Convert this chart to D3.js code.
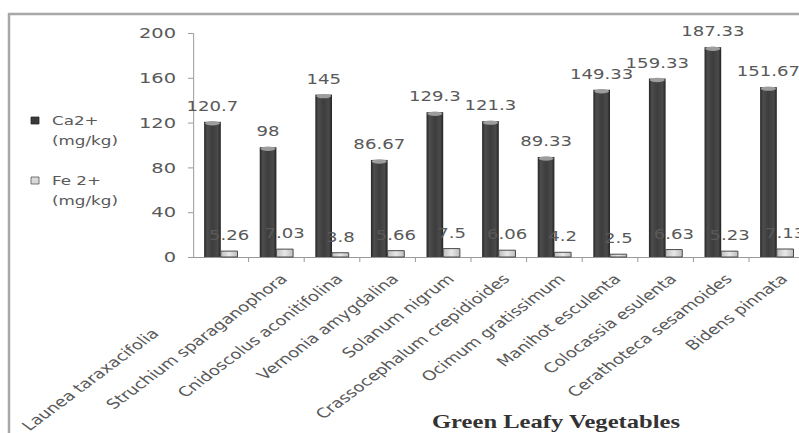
<!DOCTYPE html>
<html>
<head>
<meta charset="utf-8">
<script src="https://cdn.jsdelivr.net/npm/d3@7/dist/d3.min.js"></script>
<style>
  html, body { margin: 0; padding: 0; background: #fff; }
  svg { display: block; }
</style>
</head>
<body>
<div id="chart"></div>
<script>
// Mineral content of green leafy vegetables
const categories = [
  "Launea taraxacifolia", "Struchium sparaganophora", "Cnidoscolus aconitifolina",
  "Vernonia amygdalina", "Solanum nigrum", "Crassocephalum crepidioides",
  "Ocimum gratissimum", "Manihot esculenta", "Colocassia esulenta",
  "Cerathoteca sesamoides", "Bidens pinnata"
];
const calcium = [120.7, 98, 145, 86.67, 129.3, 121.3, 89.33, 149.33, 159.33, 187.33, 151.67];
const iron    = [5.26, 7.03, 3.8, 5.66, 7.5, 6.06, 4.2, 2.5, 6.63, 5.23, 7.13];
const caLabels = ["120.7", "98", "145", "86.67", "129.3", "121.3", "89.33", "149.33", "159.33", "187.33", "151.67"];
const feLabels = ["5.26", "7.03", "3.8", "5.66", "7.5", "6.06", "4.2", "2.5", "6.63", "5.23", "7.13"];
const yTicks = [0, 40, 80, 120, 160, 200];
const seriesNames = [["Ca2+", "(mg/kg)"], ["Fe 2+", "(mg/kg)"]];
const axisTitle = "Green Leafy Vegetables";

const W = 799, H = 433;
const SX = 1.34;                       // horizontal stretch of the whole drawing
const font = "'DejaVu Sans', sans-serif";
const textColor = "#595959";

const svg = d3.select("#chart").append("svg")
  .attr("width", W).attr("height", H);

const defs = svg.append("defs");
const caGrad = defs.append("linearGradient").attr("id", "caFill")
  .attr("x1", "0").attr("x2", "1").attr("y1", "0").attr("y2", "0");
[[0, "#262626"], [0.18, "#4d4d4d"], [0.5, "#3d3d3d"], [0.82, "#4a4a4a"], [1, "#222"]]
  .forEach(([o, c]) => caGrad.append("stop").attr("offset", o).attr("stop-color", c));
const feGrad = defs.append("linearGradient").attr("id", "feFill")
  .attr("x1", "0").attr("x2", "1").attr("y1", "0").attr("y2", "0");
[[0, "#bdbdbd"], [0.5, "#e8e8e8"], [1, "#bcbcbc"]]
  .forEach(([o, c]) => feGrad.append("stop").attr("offset", o).attr("stop-color", c));

const g = svg.append("g").attr("transform", `scale(${SX},1)`);

// chart frame
g.append("rect")
  .attr("x", 9 / SX).attr("y", 14)
  .attr("width", (W + 40) / SX).attr("height", H + 40)
  .attr("fill", "none").attr("stroke", "#a8a8a8").attr("stroke-width", 2.5)
  .attr("vector-effect", "non-scaling-stroke");

const x0 = 193 / SX, step = 55.6 / SX;
const x = d3.scaleBand().domain(categories)
  .range([x0, x0 + step * categories.length]).padding(0);
const y = d3.scaleLinear().domain([0, 200]).range([257, 33]);
const barW = x.bandwidth() * 0.3;

// y axis
const yAxis = g.append("g").attr("transform", `translate(${x0},0)`)
  .call(d3.axisLeft(y).tickValues(yTicks).tickSize(5 / SX).tickPadding(12 / SX));
yAxis.select(".domain").attr("stroke", "#9a9a9a").attr("vector-effect", "non-scaling-stroke");
yAxis.selectAll(".tick line").attr("stroke", "#9a9a9a").attr("vector-effect", "non-scaling-stroke");
yAxis.selectAll(".tick text").attr("fill", textColor)
  .style("font-family", font).style("font-size", "14.5px");

// x axis baseline and boundary ticks
const xAxis = g.append("g").attr("transform", `translate(0,${y(0)})`)
  .call(d3.axisBottom(x).tickSize(0).tickFormat(""));
xAxis.select(".domain").attr("stroke", "#9a9a9a").attr("vector-effect", "non-scaling-stroke");
xAxis.selectAll(".tick").remove();
xAxis.selectAll(".bound").data(categories.slice(1)).join("line")
  .attr("class", "bound")
  .attr("x1", d => x(d)).attr("x2", d => x(d))
  .attr("y1", 0).attr("y2", 5)
  .attr("stroke", "#9a9a9a").attr("vector-effect", "non-scaling-stroke");

const cx = d => x(d) + x.bandwidth() / 2;

// Ca bars
const caBars = g.append("g");
caBars.selectAll("rect").data(categories).join("rect")
  .attr("x", d => cx(d) - barW)
  .attr("y", (d, i) => y(calcium[i]))
  .attr("width", barW)
  .attr("height", (d, i) => y(0) - y(calcium[i]))
  .attr("fill", "url(#caFill)");
caBars.selectAll("ellipse").data(categories).join("ellipse")
  .attr("cx", d => cx(d) - barW / 2)
  .attr("cy", (d, i) => y(calcium[i]) + 1.5)
  .attr("rx", barW / 2 - 0.6).attr("ry", 2.2)
  .attr("fill", "#9d9d9d");

// Fe bars
const feBars = g.append("g");
feBars.selectAll("rect").data(categories).join("rect")
  .attr("x", d => cx(d))
  .attr("y", (d, i) => y(iron[i]))
  .attr("width", barW)
  .attr("height", (d, i) => y(0) - y(iron[i]))
  .attr("fill", "url(#feFill)")
  .attr("stroke", "#4a4a4a").attr("stroke-width", 1)
  .attr("vector-effect", "non-scaling-stroke");

// value labels
const labelOffset = 11;
g.append("g").selectAll("text").data(categories).join("text")
  .attr("x", d => cx(d) - barW / 2)
  .attr("y", (d, i) => y(calcium[i]) - labelOffset)
  .attr("text-anchor", "middle")
  .attr("fill", textColor)
  .style("font-family", font).style("font-size", "13.5px")
  .text((d, i) => caLabels[i]);
g.append("g").selectAll("text").data(categories).join("text")
  .attr("x", d => cx(d) + barW / 2)
  .attr("y", (d, i) => y(iron[i]) - labelOffset)
  .attr("text-anchor", "middle")
  .attr("fill", textColor)
  .style("font-family", font).style("font-size", "13.5px")
  .text((d, i) => feLabels[i]);

// category labels, rotated
g.append("g").selectAll("text").data(categories).join("text")
  .attr("transform", d => `translate(${cx(d) + 2},${y(0) + 16}) rotate(-45)`)
  .attr("dx", (d, i) => i === 0 ? -77 : 0)
  .attr("dy", "0.72em")
  .attr("text-anchor", "end")
  .attr("fill", textColor)
  .style("font-family", font).style("font-size", "13.5px")
  .text(d => d);

// axis title
g.append("text")
  .attr("x", 556 / SX).attr("y", 428)
  .attr("text-anchor", "middle")
  .attr("fill", "#333")
  .attr("textLength", 248 / SX).attr("lengthAdjust", "spacingAndGlyphs")
  .style("font-family", "'Liberation Serif', 'Times New Roman', serif")
  .style("font-weight", "bold").style("font-size", "18px")
  .text(axisTitle);

// legend
const legend = g.append("g");
const legendRows = [125, 185];
seriesNames.forEach((lines, i) => {
  const ly = legendRows[i];
  legend.append("rect")
    .attr("x", 31 / SX).attr("y", ly - 8)
    .attr("width", 8 / SX).attr("height", 7)
    .attr("fill", i === 0 ? "#3a3a3a" : "#d9d9d9")
    .attr("stroke", i === 0 ? "#2a2a2a" : "#555")
    .attr("stroke-width", 0.8).attr("vector-effect", "non-scaling-stroke");
  lines.forEach((t, j) => {
    legend.append("text")
      .attr("x", 52 / SX).attr("y", ly + j * 20)
      .attr("fill", textColor)
      .style("font-family", font).style("font-size", "12.5px")
      .text(t);
  });
});
</script>
</body>
</html>
